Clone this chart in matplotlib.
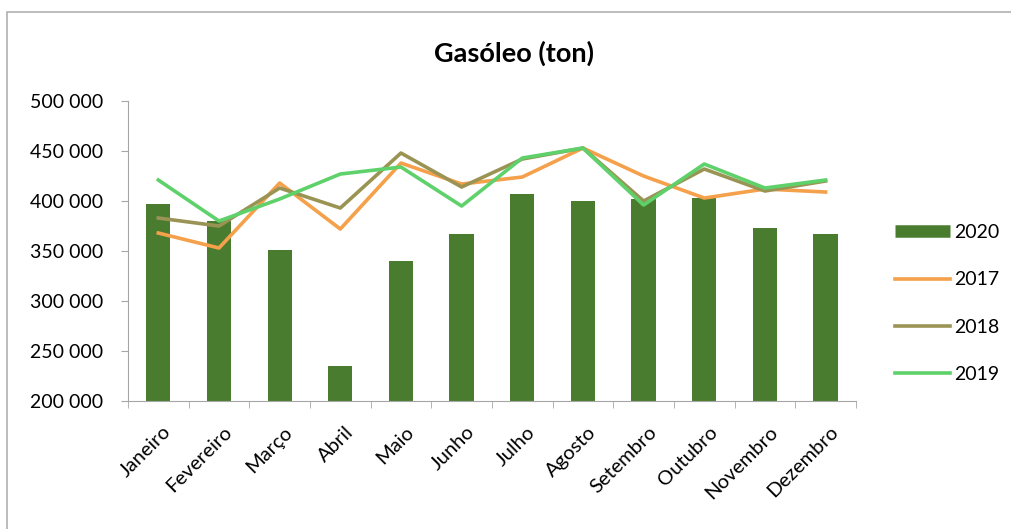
import numpy as np
import matplotlib
matplotlib.use("Agg")
import matplotlib.pyplot as plt
import matplotlib.transforms as mtransforms
from matplotlib.patches import Rectangle
from matplotlib.lines import Line2D
from matplotlib.ticker import FuncFormatter

plt.rcParams['font.family'] = ['Lato', 'DejaVu Sans']

meses = ['Janeiro', 'Fevereiro', 'Março', 'Abril', 'Maio', 'Junho', 'Julho',
         'Agosto', 'Setembro', 'Outubro', 'Novembro', 'Dezembro']

v2020 = [397000, 380000, 351000, 235000, 340000, 367000,
         407000, 400000, 402000, 403000, 373000, 367000]
v2017 = [368000, 353000, 418000, 372000, 438000, 417000,
         424000, 453000, 425000, 403000, 412000, 409000]
v2018 = [383000, 375000, 413000, 393000, 448000, 414000,
         442000, 453000, 400000, 432000, 410000, 420000]
v2019 = [421000, 380000, 402000, 427000, 434000, 395000,
         443000, 453000, 396000, 437000, 413000, 421000]

c2020 = '#4a7c2f'
c2017 = '#f5a04a'
c2018 = '#9a9454'
c2019 = '#5fd16b'

fig = plt.figure(figsize=(10.11, 5.29), dpi=100)
ax = fig.add_axes([0.1266, 0.242, 0.720, 0.567])

x = np.arange(len(meses))
ax.bar(x, v2020, width=0.4, color=c2020, zorder=2)
ax.plot(x, v2017, color=c2017, lw=2.6, zorder=3)
ax.plot(x, v2018, color=c2018, lw=2.6, zorder=3)
ax.plot(x, v2019, color=c2019, lw=2.6, zorder=4)

ax.set_xlim(-0.5, len(meses) - 0.5)
ax.set_ylim(200000, 500000)
ax.set_yticks(np.arange(200000, 500001, 50000))
ax.yaxis.set_major_formatter(FuncFormatter(lambda v, p: f"{int(v):,}".replace(',', ' ')))

ax.set_xticks(x)
ax.set_xticklabels(meses, rotation=45, ha='right', rotation_mode='anchor')
ax.set_xticks(np.arange(-0.5, len(meses)), minor=True)
ax.tick_params(axis='x', which='major', length=0, pad=16, labelsize=14.5)
ax.tick_params(axis='x', which='minor', length=5, color='#a6a6a6')
ax.tick_params(axis='y', length=5, color='#a6a6a6', labelsize=14, pad=13)
shift = mtransforms.ScaledTranslation(4 / 100, 0, fig.dpi_scale_trans)
for lab in ax.get_xticklabels():
    lab.set_transform(lab.get_transform() + shift)

for s in ['top', 'right']:
    ax.spines[s].set_visible(False)
for s in ['left', 'bottom']:
    ax.spines[s].set_color('#a6a6a6')

fig.text(0.508, 0.90, 'Gasóleo (ton)', ha='center', va='center',
         fontsize=19.5, fontweight='bold')

handles = [Line2D([], [], color=c2020, lw=9, solid_capstyle='butt'),
           Line2D([], [], color=c2017, lw=2.6),
           Line2D([], [], color=c2018, lw=2.6),
           Line2D([], [], color=c2019, lw=2.6)]
ax.legend(handles, ['2020', '2017', '2018', '2019'], loc='center left',
          bbox_to_anchor=(1.03, 0.325), frameon=False, fontsize=14,
          labelspacing=1.55, handlelength=2.8, handletextpad=0.25)

fig.add_artist(Rectangle((7 / 1011, -0.1), 1.2, 1 - 12 / 529 + 0.1,
                         transform=fig.transFigure, fill=False,
                         edgecolor='#b0b0b0', lw=1.2))

fig.savefig('out.png', dpi=100)
